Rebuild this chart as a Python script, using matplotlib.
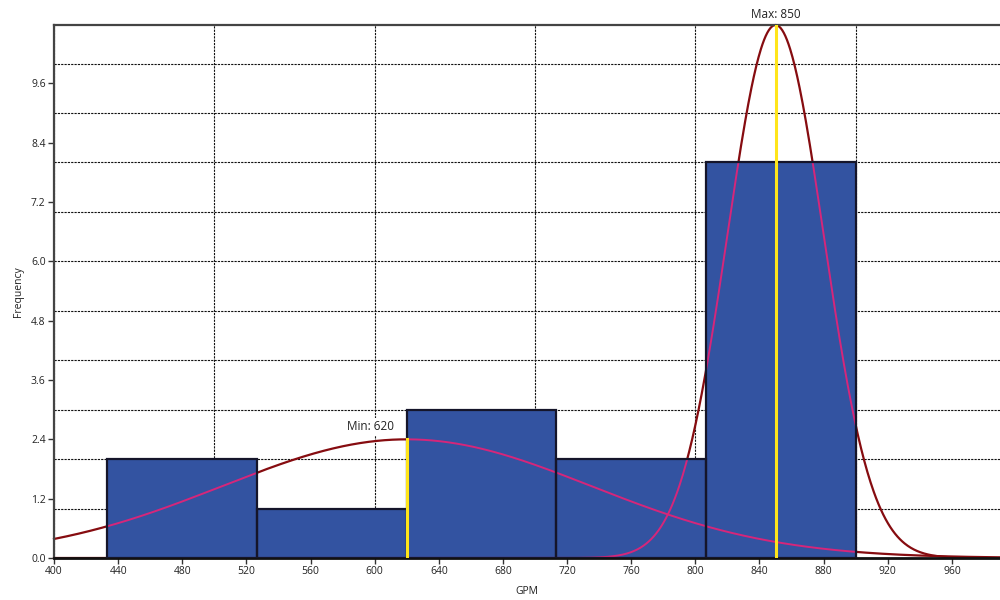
import numpy as np
import matplotlib
matplotlib.use("Agg")
import matplotlib.pyplot as plt
from matplotlib.ticker import MultipleLocator, FormatStrFormatter

# Histogram of GPM readings
bin_edges = [433.33, 526.67, 620.0, 713.33, 806.67, 900.0]
counts = [2, 1, 3, 2, 8]

# Fitted normal curves (mean, peak height, std dev)
min_mean, min_peak, min_sd = 620, 2.4, 115
max_mean, max_peak, max_sd = 850, 10.78, 30

plt.rcParams['font.family'] = ['Open Sans', 'DejaVu Sans']

fig = plt.figure(figsize=(10, 6), dpi=100)
ax = fig.add_axes([0.054, 0.07, 0.946, 0.8883])

x_lo, x_hi = 400, 990
y_hi = 10.78
ax.set_xlim(x_lo, x_hi)
ax.set_ylim(0, y_hi)

bar_color = "#3353a1"
widths = np.diff(bin_edges)
bars = ax.bar(bin_edges[:-1], counts, width=widths, align="edge",
              color=bar_color, edgecolor="none", zorder=2)
ax.bar(bin_edges[:-1], counts, width=widths, align="edge",
       facecolor="none", edgecolor="#15152a", linewidth=1.6, zorder=4)

xs = np.linspace(x_lo, x_hi, 1200)
curves = [
    min_peak * np.exp(-0.5 * ((xs - min_mean) / min_sd) ** 2),
    max_peak * np.exp(-0.5 * ((xs - max_mean) / max_sd) ** 2),
]
for ys in curves:
    ax.plot(xs, ys, color="#860c10", linewidth=1.6, zorder=1.8, clip_on=False)
    for patch in bars:
        ln, = ax.plot(xs, ys, color="#d6267a", linewidth=1.4, zorder=3)
        ln.set_clip_path(patch)

# Markers for the curve peaks
ax.plot([min_mean, min_mean], [0, min_peak], color="#ffe51a", linewidth=2.2, zorder=5)
ax.plot([max_mean, max_mean], [0, max_peak], color="#ffe51a", linewidth=2.2, zorder=5)
label_box = dict(facecolor="white", edgecolor="none", pad=1.5)
ax.text(min_mean - 8, min_peak + 0.12, f"Min: {min_mean}", ha="right", va="bottom",
        fontsize=8.5, color="#222222", zorder=6, bbox=label_box)
ax.text(max_mean, max_peak + 0.08, f"Max: {max_mean}", ha="center", va="bottom",
        fontsize=8.5, color="#222222", zorder=6, clip_on=False)

# Ticks and grid
ax.xaxis.set_major_locator(MultipleLocator(40))
ax.xaxis.set_minor_locator(MultipleLocator(100))
ax.yaxis.set_major_locator(MultipleLocator(1.2))
ax.yaxis.set_minor_locator(MultipleLocator(1))
ax.xaxis.remove_overlapping_locs = False
ax.yaxis.remove_overlapping_locs = False
ax.yaxis.set_major_formatter(FormatStrFormatter("%.1f"))
ax.grid(which="minor", color="#111111", linestyle=(0, (2, 1)), linewidth=0.8)
ax.grid(which="major", visible=False)
ax.set_axisbelow(True)
ax.tick_params(which="minor", length=0)
ax.tick_params(which="major", length=4, width=1, color="#333333",
               labelsize=7.5, labelcolor="#222222", pad=2)

for side in ["left", "top"]:
    ax.spines[side].set_color("#444444")
    ax.spines[side].set_linewidth(1.6)
ax.spines["bottom"].set_color("#111111")
ax.spines["bottom"].set_linewidth(2)
ax.spines["right"].set_visible(False)

ax.set_xlabel("GPM", fontsize=7.5, color="#222222", labelpad=6)
ax.set_ylabel("Frequency", fontsize=7.5, color="#222222", labelpad=5)

fig.savefig("out.png", dpi=100)
